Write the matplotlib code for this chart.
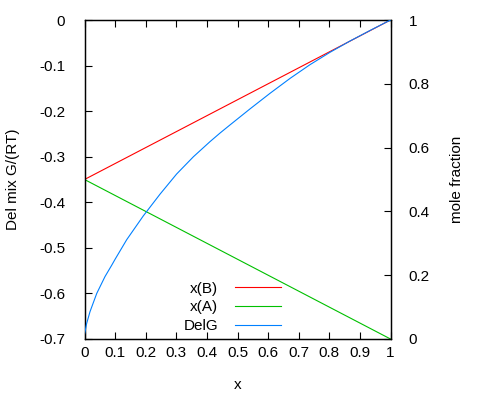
import matplotlib
matplotlib.use("Agg")
import matplotlib.pyplot as plt

plt.rcParams['font.family'] = ['Liberation Sans', 'DejaVu Sans']
plt.rcParams['font.size'] = 11

# data
x_lines = [0.0, 1.0]
xB = [0.5, 1.0]
xA = [0.5, 0.0]

x_delg = [0.0, 0.007, 0.018, 0.04, 0.067, 0.089, 0.1, 0.138, 0.192, 0.247, 0.301, 0.356,
          0.41, 0.443, 0.476, 0.541, 0.606, 0.672, 0.737, 0.802, 0.868, 0.933, 1.0]
delg = [-0.69, -0.666, -0.640, -0.600, -0.563, -0.538, -0.525, -0.482, -0.430, -0.382, -0.338, -0.300,
        -0.267, -0.248, -0.230, -0.195, -0.161, -0.128, -0.098, -0.071, -0.046, -0.023, 0.0]

x_ticks = [0, 0.1, 0.2, 0.3, 0.4, 0.5, 0.6, 0.7, 0.8, 0.9, 1]
x_ticklabels = ['0', '0.1', '0.2', '0.3', '0.4', '0.5', '0.6', '0.7', '0.8', '0.9', '1']
y_ticks = [-0.7, -0.6, -0.5, -0.4, -0.3, -0.2, -0.1, 0]
y_ticklabels = ['-0.7', '-0.6', '-0.5', '-0.4', '-0.3', '-0.2', '-0.1', '0']
y2_ticks = [0, 0.2, 0.4, 0.6, 0.8, 1]
y2_ticklabels = ['0', '0.2', '0.4', '0.6', '0.8', '1']

fig = plt.figure(figsize=(5, 4), dpi=100)
ax = fig.add_axes([84.5/500, 1-339/400, (390.5-84.5)/500, (339-20)/400])
ax2 = ax.twinx()

lw = 0.8
hB, = ax2.plot(x_lines, xB, color='#ff0000', lw=lw, label='x(B)')
hA, = ax2.plot(x_lines, xA, color='#00c000', lw=lw, label='x(A)')
hG, = ax.plot(x_delg, delg, color='#0080ff', lw=lw, zorder=3, label='DelG')
ax.set_zorder(ax2.get_zorder() + 1)
ax.patch.set_visible(False)

ax.set_xlim(0, 1)
ax.set_ylim(-0.7, 0)
ax2.set_ylim(0, 1)

ax.set_xticks(x_ticks)
ax.set_xticklabels(x_ticklabels)
ax.set_yticks(y_ticks)
ax.set_yticklabels(y_ticklabels)
ax2.set_yticks(y2_ticks)
ax2.set_yticklabels(y2_ticklabels)

ax.tick_params(axis='x', direction='in', length=5, width=0.8, top=True, pad=5, colors='black')
ax.tick_params(axis='y', direction='in', length=5, width=0.8, right=False, pad=14)
ax2.tick_params(axis='y', direction='in', length=5, width=0.8, pad=13)

for a in (ax, ax2):
    for s in a.spines.values():
        s.set_linewidth(0.9)

ax.set_xlabel('x')
ax.set_ylabel('Del mix G/(RT)')
ax2.set_ylabel('mole fraction')
ax.xaxis.set_label_coords(0.5, (339-385)/319)
ax.xaxis.label.set(va='center', ha='center')
ax.yaxis.set_label_coords((13-84.5)/306, 0.5)
ax.yaxis.label.set(va='center', ha='center')
ax2.yaxis.set_label_coords((457-84.5)/306, 0.5)
ax2.yaxis.label.set(va='center', ha='center')

leg = ax.legend(handles=[hB, hA, hG], loc='lower right',
                bbox_to_anchor=((281-84.5)/306, (339-333)/319),
                frameon=False, markerfirst=False, handlelength=3.0,
                handletextpad=1.1, labelspacing=0.3, borderpad=0, borderaxespad=0)

fig.savefig('out.png', dpi=100)
